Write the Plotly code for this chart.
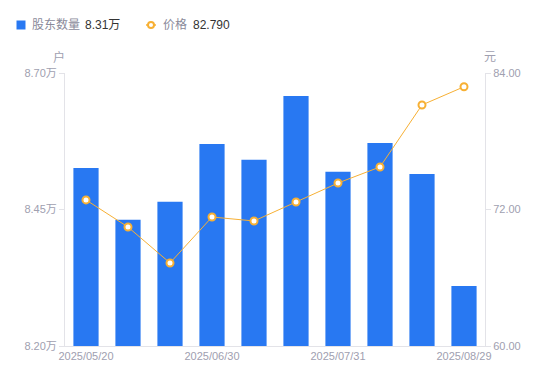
import plotly.graph_objects as go

dates = ["2025/05/20", "2025/05/31", "2025/06/20", "2025/06/30", "2025/07/10",
         "2025/07/20", "2025/07/31", "2025/08/10", "2025/08/20", "2025/08/29"]
holders = [8.526, 8.431, 8.464, 8.570, 8.541, 8.658, 8.519, 8.572, 8.515, 8.31]  # 万户
price = [72.84, 70.46, 67.30, 71.34, 70.99, 72.66, 74.33, 75.74, 81.19, 82.79]
shown_dates = ["2025/05/20", "2025/06/30", "2025/07/31", "2025/08/29"]
left_ticks = [8.20, 8.45, 8.70]
left_text = ["8.20万", "8.45万", "8.70万"]
right_ticks = [60, 72, 84]
right_text = ["60.00", "72.00", "84.00"]

BLUE = "#2878f2"
ORANGE = "#f7b034"
GRAY = "#a0a0b0"
LEG_GRAY = "#8a8a9a"
DARK = "#333333"
FONT = "Liberation Sans, Noto Sans CJK SC"

W, H = 550, 381
ML, MR, MT, MB = 65, 65, 73, 35
PW, PH = W - ML - MR, H - MT - MB


def px(x):
    return (x - ML) / PW


def py(y):
    return (H - MB - y) / PH


fig = go.Figure()
fig.add_trace(go.Bar(
    x=dates, y=holders, name="股东数量",
    marker=dict(color=BLUE, line=dict(width=0)), width=0.6, yaxis="y",
))
fig.add_trace(go.Scatter(
    x=dates, y=price, name="价格",
    mode="lines+markers", yaxis="y2",
    line=dict(color=ORANGE, width=1),
    marker=dict(symbol="circle", size=7, color="white", line=dict(color=ORANGE, width=2)),
))

LY = 25
legend_shapes = [
    dict(type="rect", xref="paper", yref="paper", x0=px(16.5), x1=px(25.5), y0=py(LY - 4.5), y1=py(LY + 4.5),
         fillcolor=BLUE, line=dict(width=0), layer="above"),
    dict(type="line", xref="paper", yref="paper", x0=px(146), x1=px(156), y0=py(LY), y1=py(LY),
         line=dict(color=ORANGE, width=1.5)),
    dict(type="circle", xref="paper", yref="paper", x0=px(148), x1=px(154), y0=py(LY - 3), y1=py(LY + 3),
         fillcolor="white", line=dict(color=ORANGE, width=2)),
]

legend_ann = [
    dict(text="股东数量", x=px(30.5), color=LEG_GRAY),
    dict(text="8.31万", x=px(84), color=DARK),
    dict(text="价格", x=px(161.5), color=LEG_GRAY),
    dict(text="82.790", x=px(192), color=DARK),
]

annotations = [
    dict(text=a["text"], xref="paper", yref="paper", x=a["x"], y=py(LY), xanchor="left",
         yanchor="middle", showarrow=False, xshift=-1,
         font=dict(size=12, color=a["color"], family=FONT))
    for a in legend_ann
]
annotations += [
    dict(text="户", xref="paper", yref="paper", x=px(59), y=py(57), xanchor="center",
         yanchor="middle", showarrow=False, font=dict(size=12, color=GRAY, family=FONT)),
    dict(text="元", xref="paper", yref="paper", x=px(490), y=py(57), xanchor="center",
         yanchor="middle", showarrow=False, font=dict(size=12, color=GRAY, family=FONT)),
]

fig.update_layout(
    width=W, height=H,
    margin=dict(l=ML, r=MR, t=MT, b=MB, autoexpand=False),
    paper_bgcolor="white", plot_bgcolor="white",
    font=dict(family=FONT, size=11, color=GRAY),
    showlegend=False,
    bargap=0.4,
    xaxis=dict(type="category", tickmode="array", tickvals=shown_dates, ticktext=shown_dates,
               showline=True, linecolor="#e3e3e8", linewidth=1, ticks="", showgrid=False,
               tickfont=dict(size=11, color=GRAY), range=[-0.5, 9.5], automargin=False),
    yaxis=dict(range=[8.20, 8.70], tickvals=left_ticks, ticktext=left_text,
               showline=True, linecolor="#e3e3e8", linewidth=1, ticks="outside",
               ticklen=5, tickcolor="#e3e3e8", showgrid=False, zeroline=False,
               tickfont=dict(size=11, color=GRAY), automargin=False),
    yaxis2=dict(range=[60, 84], tickvals=right_ticks, ticktext=right_text,
                overlaying="y", side="right",
                showline=True, linecolor="#e3e3e8", linewidth=1, ticks="outside",
                ticklen=5, tickcolor="#e3e3e8", showgrid=False, zeroline=False,
                tickfont=dict(size=11, color=GRAY), automargin=False),
    shapes=legend_shapes,
    annotations=annotations,
)

fig.write_html("out.html", config={"displayModeBar": False},
               post_script="document.body.style.margin='0';")
